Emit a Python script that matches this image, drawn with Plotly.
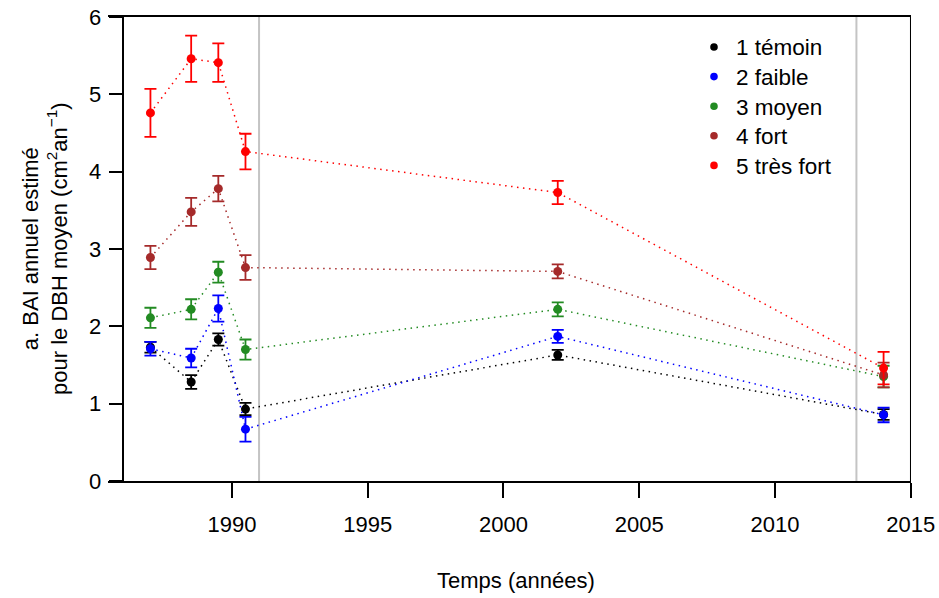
import plotly.graph_objects as go

years = [1987, 1988.5, 1989.5, 1990.5, 2002, 2014]
series_names = ["1 témoin", "2 faible", "3 moyen", "4 fort", "5 très fort"]
series_colors = ["#000000", "#0000FF", "#228B22", "#A52A2A", "#FF0000"]

temoin = [1.73, 1.28, 1.83, 0.93, 1.63, 0.86]
temoin_err = [0.07, 0.09, 0.08, 0.08, 0.065, 0.07]
faible = [1.71, 1.59, 2.23, 0.67, 1.87, 0.855]
faible_err = [0.09, 0.12, 0.17, 0.16, 0.085, 0.095]
moyen = [2.11, 2.22, 2.70, 1.70, 2.22, 1.35]
moyen_err = [0.13, 0.13, 0.135, 0.13, 0.09, 0.14]
fort = [2.89, 3.48, 3.78, 2.76, 2.71, 1.37]
fort_err = [0.15, 0.18, 0.165, 0.16, 0.09, 0.16]
tres_fort = [4.76, 5.46, 5.41, 4.26, 3.73, 1.46]
tres_fort_err = [0.31, 0.30, 0.25, 0.23, 0.15, 0.21]

values = [temoin, faible, moyen, fort, tres_fort]
errors = [temoin_err, faible_err, moyen_err, fort_err, tres_fort_err]

x_ticks = [1990, 1995, 2000, 2005, 2010, 2015]
y_ticks = [0, 1, 2, 3, 4, 5, 6]
period_lines = [1991, 2013]

FONT = "Liberation Sans, Arial, Helvetica, sans-serif"
W, H = 939, 598
ML, MR, MT, MB = 108, 28, 17, 117
PW, PH = W - ML - MR, H - MT - MB


def px_x(px):
    return (px - ML) / PW


def px_y(py):
    return (H - MB - py) / PH


fig = go.Figure()

for name, col, v, e in zip(series_names, series_colors, values, errors):
    fig.add_trace(go.Scatter(
        x=years, y=v, mode="lines+markers", name=name, showlegend=False,
        line=dict(color=col, width=1.5, dash="1.5px,4.5px"),
        marker=dict(color=col, size=9),
        error_y=dict(type="data", array=e, visible=True, color=col, thickness=1.8, width=6),
    ))

for xv in period_lines:
    fig.add_shape(type="line", xref="x", yref="y", x0=xv, x1=xv, y0=0, y1=6,
                  line=dict(color="#C4C4C4", width=2), layer="below")

fig.add_shape(type="line", xref="x", yref="y", x0=2015, x1=2015, y0=0, y1=6,
              line=dict(color="#000000", width=1.5), layer="above")

annotations = [
    dict(text="Temps (années)", xref="paper", yref="paper",
         x=px_x(516), y=px_y(580), xanchor="center", yanchor="middle",
         showarrow=False, font=dict(size=22)),
    dict(text="a. BAI annuel estimé<br>pour le DBH moyen (cm<sup>2</sup>an<sup>−1</sup>)",
         xref="paper", yref="paper", x=px_x(45), y=0.5,
         xanchor="center", yanchor="middle", textangle=-90, showarrow=False,
         font=dict(size=22)),
]

# legend (manual, R style)
for i, (name, col) in enumerate(zip(series_names, series_colors)):
    cy = 47 + 29.6 * i
    fig.add_shape(type="circle", xref="paper", yref="paper",
                  x0=px_x(714 - 3.8), x1=px_x(714 + 3.8),
                  y0=px_y(cy + 3.8), y1=px_y(cy - 3.8),
                  fillcolor=col, line=dict(color=col, width=0))
    annotations.append(dict(text=name, xref="paper", yref="paper",
                            x=px_x(734), y=px_y(cy + 1), xanchor="left", yanchor="middle",
                            showarrow=False, font=dict(size=22.5)))

fig.update_layout(
    width=W, height=H,
    margin=dict(l=ML, r=MR, t=MT, b=MB, autoexpand=False),
    paper_bgcolor="white", plot_bgcolor="white",
    font=dict(family=FONT, size=22, color="black"),
    showlegend=False,
    xaxis=dict(range=[1985.437, 2015.01], tickvals=x_ticks, ticks="outside", ticklen=15,
               tickwidth=1.5, tickcolor="black", showline=True, linecolor="black", linewidth=1.5,
               mirror=True, showgrid=False, zeroline=False, ticklabelstandoff=8,
               tickfont=dict(size=22), automargin=False),
    yaxis=dict(range=[0, 6], tickvals=y_ticks, ticks="outside", ticklen=14, tickwidth=1.5,
               tickcolor="black", showline=True, linecolor="black", linewidth=1.5,
               anchor="free", position=15.3 / PW, showgrid=False, zeroline=False,
               ticklabelstandoff=3, tickfont=dict(size=22), automargin=False),
    annotations=annotations,
)

fig.write_html("out.html", config={"displayModeBar": False},
               post_script="document.body.style.margin='0';document.body.style.overflow='hidden';")
